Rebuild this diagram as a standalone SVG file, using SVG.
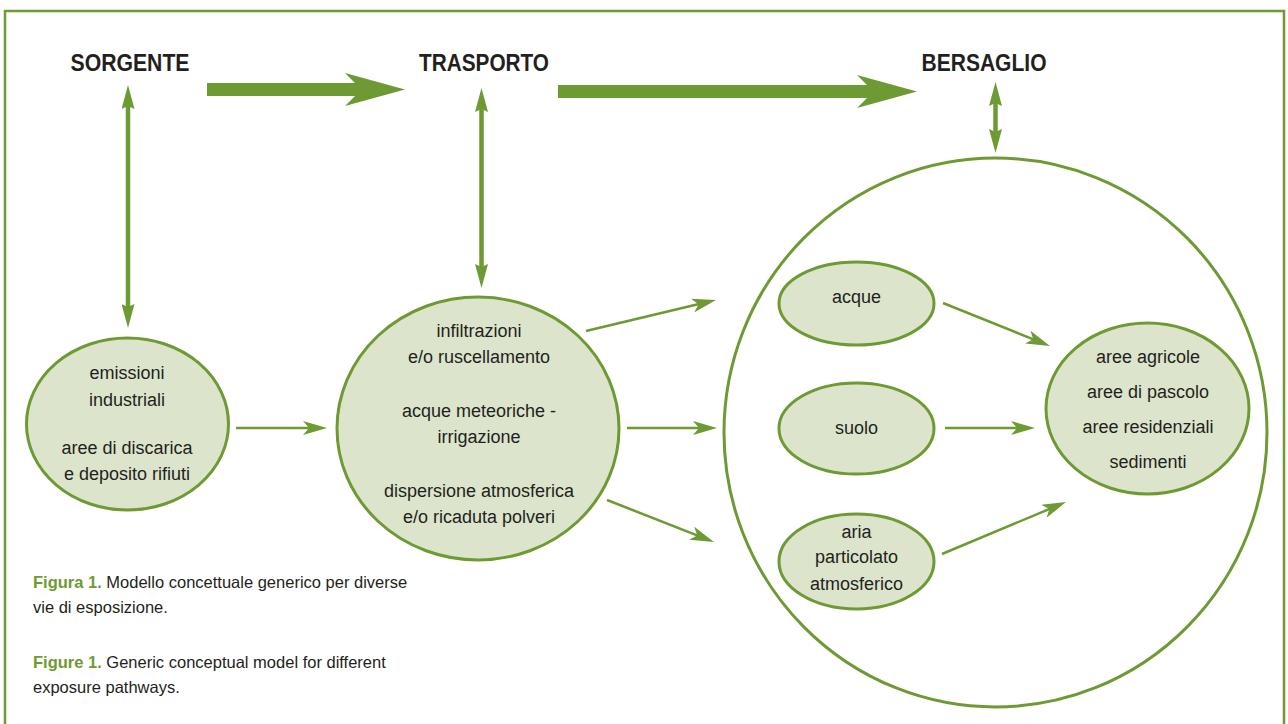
<svg xmlns="http://www.w3.org/2000/svg" width="1288" height="724" viewBox="0 0 1288 724">
<defs>
<style>
.node{fill:#dce5cc;stroke:#6e9a34;stroke-width:3}
.ring{fill:none;stroke:#6e9a34;stroke-width:3}
.t{font-family:"Liberation Sans",Arial,sans-serif;font-size:18px;fill:#231f20;text-anchor:middle}
.h{font-family:"Liberation Sans",Arial,sans-serif;font-size:24px;font-weight:bold;fill:#231f20;text-anchor:middle}
.cap{font-family:"Liberation Sans",Arial,sans-serif;font-size:16.5px;fill:#231f20}
.capb{font-weight:bold;fill:#6e9a34}
.thin{stroke:#6e9a34;stroke-width:2.5;fill:none;marker-end:url(#ah)}
.dbl{stroke:#6e9a34;stroke-width:4.5;fill:none;marker-start:url(#dh);marker-end:url(#dh)}
.big{fill:#6e9a34}
</style>
<marker id="ah" viewBox="0 0 24 14" refX="14" refY="7" markerWidth="24" markerHeight="14" markerUnits="userSpaceOnUse" orient="auto">
<path d="M0,0 L24,7 L0,14 L6,7 z" fill="#6e9a34"/>
</marker>
<marker id="dh" viewBox="0 0 24 13" refX="12" refY="6.5" markerWidth="24" markerHeight="13" markerUnits="userSpaceOnUse" orient="auto-start-reverse">
<path d="M0,0 L24,6.5 L0,13 L3,6.5 z" fill="#6e9a34"/>
</marker>
</defs>
<rect x="0" y="0" width="1288" height="724" fill="#ffffff"/>
<rect x="5" y="11" width="1279" height="740" fill="none" stroke="#6e9a34" stroke-width="2.5"/>

<g id="heading-sorgente"><text class="h" x="130" y="71" textLength="119" lengthAdjust="spacingAndGlyphs">SORGENTE</text></g>
<g id="heading-trasporto"><text class="h" x="484" y="71" textLength="130" lengthAdjust="spacingAndGlyphs">TRASPORTO</text></g>
<g id="heading-bersaglio"><text class="h" x="984" y="71" textLength="125" lengthAdjust="spacingAndGlyphs">BERSAGLIO</text></g>

<g id="bersaglio-ring"><ellipse class="ring" cx="995.5" cy="432.5" rx="271.5" ry="274.5"/></g>

<g id="node-sorgente">
<ellipse class="node" cx="127.5" cy="424" rx="101" ry="86"/>
<text class="t" x="127" y="379">emissioni</text>
<text class="t" x="127" y="406">industriali</text>
<text class="t" x="127" y="454">aree di discarica</text>
<text class="t" x="127" y="480">e deposito rifiuti</text>
</g>

<g id="node-trasporto">
<ellipse class="node" cx="478" cy="428.5" rx="141" ry="131.5"/>
<text class="t" x="479" y="337">infiltrazioni</text>
<text class="t" x="479" y="363">e/o ruscellamento</text>
<text class="t" x="479" y="417">acque meteoriche -</text>
<text class="t" x="479" y="443">irrigazione</text>
<text class="t" x="479" y="497">dispersione atmosferica</text>
<text class="t" x="479" y="523">e/o ricaduta polveri</text>
</g>

<g id="node-acque">
<ellipse class="node" cx="856.5" cy="303.5" rx="77.5" ry="41.5"/>
<text class="t" x="856.5" y="303">acque</text>
</g>

<g id="node-suolo">
<ellipse class="node" cx="856.5" cy="428.5" rx="77.5" ry="45.5"/>
<text class="t" x="856.5" y="434">suolo</text>
</g>

<g id="node-aria">
<ellipse class="node" cx="856.5" cy="561.5" rx="77.5" ry="47.5"/>
<text class="t" x="856.5" y="538">aria</text>
<text class="t" x="856.5" y="563">particolato</text>
<text class="t" x="856.5" y="590">atmosferico</text>
</g>

<g id="node-bersagli">
<ellipse class="node" cx="1147.5" cy="408.5" rx="101.5" ry="85.5"/>
<text class="t" x="1148" y="363">aree agricole</text>
<text class="t" x="1148" y="398">aree di pascolo</text>
<text class="t" x="1148" y="433">aree residenziali</text>
<text class="t" x="1148" y="468">sedimenti</text>
</g>

<g id="connectors">
<polygon class="big" points="207,83 355,83 345,73 405,89.5 345,106 355,96 207,96"/>
<polygon class="big" points="558,85 867,85 857,75 917,91.5 857,108 867,98 558,98"/>
<line class="dbl" x1="128" y1="97" x2="128" y2="316"/>
<line class="dbl" x1="481.5" y1="100" x2="481.5" y2="276"/>
<line class="dbl" x1="995.5" y1="94" x2="995.5" y2="141"/>
<line class="thin" x1="236" y1="428" x2="317" y2="428"/>
<line class="thin" x1="586" y1="331" x2="706.3" y2="302.3"/>
<line class="thin" x1="627" y1="428" x2="707" y2="428"/>
<line class="thin" x1="607" y1="500" x2="704.7" y2="538.3"/>
<line class="thin" x1="943" y1="303" x2="1040.7" y2="342.3"/>
<line class="thin" x1="945" y1="428" x2="1025" y2="428"/>
<line class="thin" x1="942" y1="554" x2="1056.8" y2="505.9"/>
</g>

<g id="caption">
<text class="cap" x="33" y="588"><tspan class="capb">Figura 1.</tspan> Modello concettuale generico per diverse</text>
<text class="cap" x="33" y="613">vie di esposizione.</text>
<text class="cap" x="33" y="668"><tspan class="capb">Figure 1.</tspan> Generic conceptual model for different</text>
<text class="cap" x="33" y="693">exposure pathways.</text>
</g>
</svg>
